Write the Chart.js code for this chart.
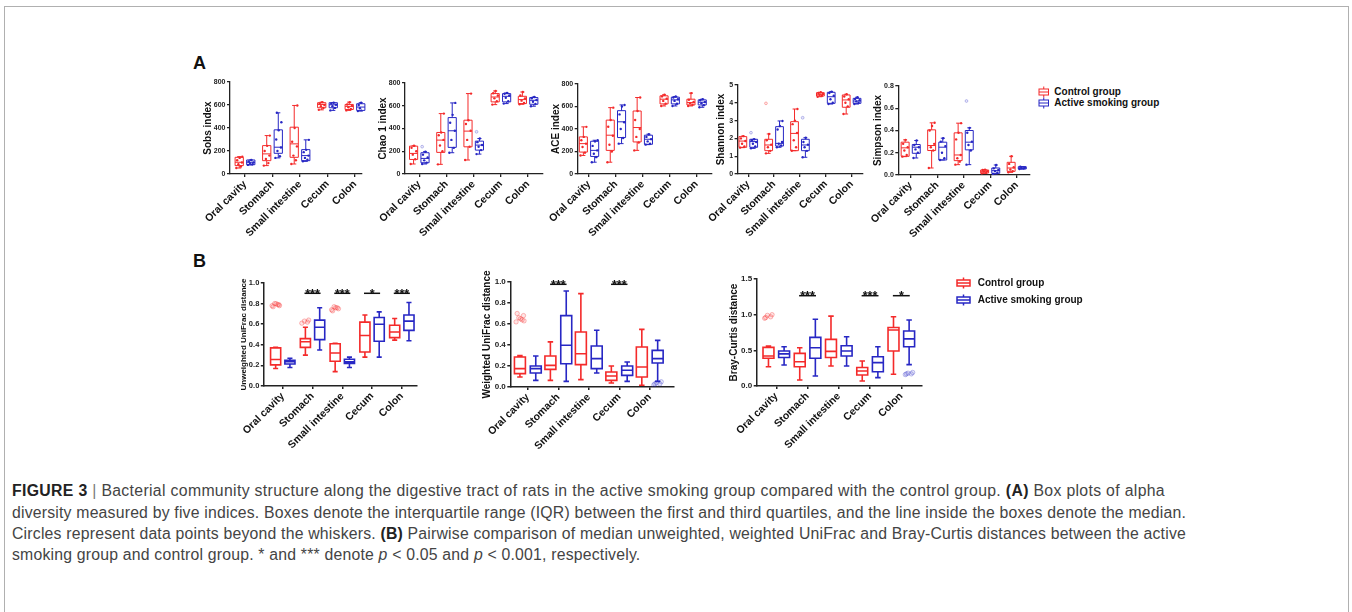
<!DOCTYPE html>
<html>
<head>
<meta charset="utf-8">
<script src="https://cdn.jsdelivr.net/npm/chart.js@4.4.1/dist/chart.umd.min.js"></script>
<style>
body{margin:0;width:1352px;height:612px;background:#fff;position:relative;overflow:hidden;font-family:'Liberation Sans',Arial,sans-serif}
.frame{position:absolute;left:4px;top:6px;width:1345px;height:700px;box-sizing:border-box;border:1.5px solid #b0b0b0}
canvas{position:absolute}
.lab{position:absolute;font-weight:bold;font-size:18px;color:#111;line-height:18px}
.leg{position:absolute;font-size:10px;font-weight:bold;color:#111;white-space:nowrap;line-height:12px}
.cap{position:absolute;left:12px;font-size:15.8px;line-height:20px;color:#444;white-space:nowrap}
.cap b{color:#222}
</style>
</head>
<body>
<div class="frame"></div>
<div class="lab" style="left:193px;top:54px">A</div>
<div class="lab" style="left:193px;top:252px">B</div>

<div class="cap" data-w="1153" style="top:481px"><b>FIGURE 3</b> <span style="color:#777">|</span> Bacterial community structure along the digestive tract of rats in the active smoking group compared with the control group. <b>(A)</b> Box plots of alpha</div>
<div class="cap" data-w="1174" style="top:503px">diversity measured by five indices. Boxes denote the interquartile range (IQR) between the first and third quartiles, and the line inside the boxes denote the median.</div>
<div class="cap" data-w="1174" style="top:524px">Circles represent data points beyond the whiskers. <b>(B)</b> Pairwise comparison of median unweighted, weighted UniFrac and Bray-Curtis distances between the active</div>
<div class="cap" style="top:545px">smoking group and control group. * and *** denote <i>p</i> &lt; 0.05 and <i>p</i> &lt; 0.001, respectively.</div>

<script>
// categories and groups
const categories = ['Oral cavity', 'Stomach', 'Small intestine', 'Cecum', 'Colon'];
const groups = ['Control group', 'Active smoking group'];

// tick labels
const countTicks = ['0', '200', '400', '600', '800'];
const shannonTicks = ['0', '1', '2', '3', '4', '5'];
const simpsonTicks = ['0.0', '0.2', '0.4', '0.6', '0.8'];
const unifracTicks = ['0.0', '0.2', '0.4', '0.6', '0.8', '1.0'];
const brayTicks = ['0.0', '0.5', '1.0', '1.5'];

// box stats per category: [min, q1, median, q3, max]
const sobsCtrl = [[52,73,102,145,151],[73,116,175,247,334],[87,145,262,407,596],[558,576,605,620,625],[553,561,588,605,625]];
const sobsSmk  = [[79,81,102,122,122],[140,180,233,384,532],[110,116,160,212,297],[553,576,602,620,620],[547,553,582,611,620]];
const sobsCtrlPts = [[52,65,85,100,120,140,151],[73,95,130,160,200,245,334],[87,120,160,240,280,400,596],[558,575,590,600,612,625],[553,565,580,592,605,625]];
const sobsSmkPts  = [[79,85,95,100,110,122],[140,155,200,230,300,380,450,532],[110,125,140,160,190,210,297],[553,575,590,602,612,620],[547,556,572,585,600,620]];

const chaoCtrl = [[88,128,181,245,248],[85,190,298,365,531],[123,239,377,473,707],[610,634,677,707,730],[613,619,654,683,721]];
const chaoSmk  = [[88,99,137,187,196],[187,234,380,496,625],[175,210,254,289,312],[619,634,683,707,712],[596,613,648,672,677]];
const chaoCtrlPts = [[88,130,170,200,230,248],[85,200,250,300,340,365,531],[123,240,300,380,440,473,707],[610,640,665,690,710,730],[613,625,645,665,690,721]];
const chaoSmkPts  = [[88,100,120,145,170,196],[187,230,300,380,450,520,625],[175,210,240,255,280,312],[619,640,670,690,705,712],[596,615,635,650,665,677]];
const chaoSmkOut  = [[240],[],[371],[],[]];

const aceCtrl = [[165,195,270,330,419],[105,210,345,479,590],[210,285,413,560,680],[605,623,665,695,704],[605,614,635,665,719]];
const aceSmk  = [[105,156,210,291,300],[270,324,464,563,614],[261,264,309,345,354],[605,623,659,683,689],[593,614,638,659,665]];
const aceCtrlPts = [[165,190,240,270,300,330,419],[105,200,260,340,420,480,590],[210,280,330,400,480,560,680],[605,625,650,670,690,704],[605,615,630,640,660,719]];
const aceSmkPts  = [[105,150,180,210,250,290,300],[270,320,400,460,530,600,614],[261,270,290,310,330,354],[605,625,650,665,680,689],[593,612,630,640,655,665]];

const shanCtrl = [[1.48,1.5,1.85,2.1,2.13],[1.16,1.31,1.63,1.95,2.25],[1.31,1.31,2.28,2.94,3.65],[4.34,4.38,4.48,4.57,4.59],[3.37,3.75,4.16,4.44,4.48]];
const shanSmk  = [[1.44,1.5,1.82,1.95,1.95],[1.5,1.57,1.72,2.66,2.98],[0.94,1.31,1.63,1.95,2.04],[3.93,3.97,4.34,4.59,4.63],[3.93,3.97,4.1,4.25,4.31]];
const shanCtrlPts = [[1.48,1.55,1.7,1.85,2.0,2.13],[1.16,1.3,1.5,1.65,1.9,2.25],[1.31,1.5,1.9,2.3,2.8,3.0,3.65],[4.34,4.4,4.45,4.5,4.55,4.59],[3.37,3.8,4.0,4.2,4.35,4.48]];
const shanSmkPts  = [[1.44,1.55,1.7,1.8,1.9,1.95],[1.5,1.6,1.7,1.8,2.5,2.7,2.98],[0.94,1.3,1.5,1.65,1.8,2.04],[3.93,4.0,4.2,4.4,4.55,4.63],[3.93,4.0,4.08,4.15,4.22,4.31]];
const shanCtrlOut = [[],[3.97],[],[],[]];
const shanSmkOut  = [[2.32],[],[3.16],[],[]];

const simpCtrl = [[0.165,0.168,0.244,0.295,0.316],[0.063,0.22,0.265,0.406,0.469],[0.093,0.129,0.18,0.379,0.466],[0.015,0.018,0.033,0.045,0.048],[0.024,0.033,0.063,0.114,0.168]];
const simpSmk  = [[0.153,0.195,0.25,0.274,0.31],[0.135,0.135,0.25,0.295,0.331],[0.093,0.226,0.295,0.40,0.424],[0.009,0.015,0.039,0.063,0.09],[0.054,0.054,0.063,0.075,0.075]];
const simpCtrlPts = [[0.165,0.18,0.22,0.25,0.28,0.316],[0.063,0.22,0.25,0.28,0.4,0.44,0.469],[0.093,0.12,0.15,0.18,0.32,0.38,0.466],[0.015,0.02,0.03,0.035,0.045,0.048],[0.024,0.035,0.05,0.07,0.1,0.168]];
const simpSmkPts  = [[0.153,0.2,0.23,0.25,0.27,0.31],[0.135,0.15,0.2,0.26,0.3,0.331],[0.093,0.22,0.27,0.3,0.38,0.424],[0.009,0.02,0.035,0.045,0.06,0.09],[0.054,0.06,0.063,0.068,0.075]];
const simpSmkOut  = [[],[],[0.665],[],[]];

const uwCtrl = [[0.17,0.205,0.258,0.37,0.375],[0.30,0.375,0.43,0.46,0.57],[0.14,0.24,0.32,0.41,0.415],[0.28,0.33,0.49,0.62,0.69],[0.445,0.47,0.525,0.59,0.655]];
const uwSmk  = [[0.18,0.213,0.235,0.25,0.27],[0.35,0.45,0.57,0.64,0.76],[0.18,0.22,0.235,0.26,0.28],[0.28,0.435,0.60,0.665,0.72],[0.44,0.54,0.63,0.69,0.81]];
const uwCtrlOut = [[0.78,0.79,0.80,0.79,0.77,0.80,0.78],[0.61,0.62,0.63,0.64],[0.74,0.76,0.77,0.75,0.73,0.76],[],[]];
const uwSig = [[1,'***'],[2,'***'],[3,'*'],[4,'***']];

const wCtrl = [[0.095,0.127,0.175,0.286,0.30],[0.063,0.168,0.206,0.295,0.43],[0.07,0.213,0.317,0.524,0.889],[0.038,0.063,0.105,0.143,0.2],[0.016,0.095,0.19,0.381,0.549]];
const wSmk  = [[0.063,0.133,0.175,0.2,0.295],[0.054,0.222,0.397,0.68,0.914],[0.133,0.175,0.27,0.39,0.54],[0.054,0.111,0.159,0.2,0.238],[0.054,0.229,0.27,0.349,0.444]];
const wCtrlOut = [[0.62,0.64,0.66,0.68,0.70,0.65,0.63],[],[],[],[]];
const wSmkOut  = [[],[],[],[],[0.02,0.03,0.04,0.05,0.03]];
const wSig = [[1,'***'],[3,'***']];

const bcCtrl = [[0.27,0.388,0.42,0.542,0.56],[0.084,0.27,0.34,0.458,0.537],[0.28,0.40,0.486,0.654,0.98],[0.07,0.154,0.21,0.26,0.35],[0.164,0.49,0.785,0.82,0.97]];
const bcSmk  = [[0.294,0.40,0.45,0.49,0.55],[0.14,0.388,0.537,0.682,0.935],[0.28,0.42,0.49,0.565,0.69],[0.117,0.2,0.327,0.41,0.55],[0.30,0.55,0.66,0.77,0.925]];
const bcCtrlOut = [[0.95,0.97,0.99,1.0,0.96],[],[],[],[]];
const bcSmkOut  = [[],[],[],[],[0.16,0.17,0.18,0.19,0.17]];
const bcSig = [[1,'***'],[3,'***'],[4,'*']];

const red = '#f42a2a', blue = '#2727c4';
const redFaint = 'rgba(244,42,42,0.4)', blueFaint = 'rgba(39,39,196,0.35)';
const spread = [-0.7, 0.4, -0.2, 0.65, -0.5, 0.1, 0.75, -0.35];
const FONT = "'Liberation Sans', Arial, sans-serif";
const specs = {};

const boxPlugin = {
  id: 'boxes',
  beforeDatasetsDraw(chart) {
    const sp = specs[chart.canvas.id];
    const {ctx} = chart, x = chart.scales.x, y = chart.scales.y;
    ctx.save();
    ctx.lineWidth = sp.lw;
    [sp.ctrl, sp.smk].forEach((stats, g) => {
      const off = g ? sp.off : -sp.off;
      ctx.strokeStyle = g ? blue : red;
      stats.forEach((s, i) => {
        const cx = x.getPixelForValue(i + off);
        const hw = x.getPixelForValue(i + off + sp.boxW / 2) - cx;
        const cw = hw * sp.cap;
        const [mn, q1, md, q3, mx] = s.map(v => y.getPixelForValue(v));
        ctx.beginPath();
        ctx.rect(cx - hw, q3, hw * 2, q1 - q3);
        ctx.moveTo(cx - hw, md); ctx.lineTo(cx + hw, md);
        ctx.moveTo(cx, q3); ctx.lineTo(cx, mx);
        ctx.moveTo(cx, q1); ctx.lineTo(cx, mn);
        ctx.moveTo(cx - cw, mx); ctx.lineTo(cx + cw, mx);
        ctx.moveTo(cx - cw, mn); ctx.lineTo(cx + cw, mn);
        ctx.stroke();
      });
    });
    ctx.restore();
  },
  afterDatasetsDraw(chart) {
    const sp = specs[chart.canvas.id];
    if (!sp.sig) return;
    const {ctx} = chart, x = chart.scales.x, y = chart.scales.y;
    const ly = y.getPixelForValue(sp.sigLevel);
    ctx.save();
    ctx.strokeStyle = '#111';
    ctx.fillStyle = '#111';
    ctx.lineWidth = 1.5;
    ctx.font = 'bold 12.5px ' + FONT;
    ctx.textAlign = 'center';
    ctx.textBaseline = 'alphabetic';
    sp.sig.forEach(([i, label]) => {
      const x1 = x.getPixelForValue(i - 0.27), x2 = x.getPixelForValue(i + 0.27);
      ctx.beginPath();
      ctx.moveTo(x1, ly); ctx.lineTo(x2, ly);
      ctx.stroke();
      ctx.fillText(label, (x1 + x2) / 2, ly + 4.5);
    });
    ctx.restore();
  }
};

function scatterPoints(lists, off, half) {
  return lists.flatMap((vals, i) => vals.map((v, k) => ({x: i + off + spread[k % spread.length] * half, y: v})));
}

function makeChart(id, sp) {
  specs[id] = sp;
  const cl = sp.titleX - 20, ct = sp.top - 12, cr = sp.right + 8, cb = sp.bottom + 80;
  const cv = document.createElement('canvas');
  cv.id = id;
  cv.width = Math.round(cr - cl);
  cv.height = Math.round(cb - ct);
  cv.style.left = cl + 'px';
  cv.style.top = ct + 'px';
  document.body.appendChild(cv);

  const half = sp.boxW / 2;
  const datasets = [];
  if (sp.ctrlPts) {
    datasets.push({data: scatterPoints(sp.ctrlPts, -sp.off, half), pointRadius: 1.2, pointBackgroundColor: red, pointBorderWidth: 0});
    datasets.push({data: scatterPoints(sp.smkPts, sp.off, half), pointRadius: 1.2, pointBackgroundColor: blue, pointBorderWidth: 0});
  }
  const outR = sp.ctrlPts ? 1.4 : 2.2;
  if (sp.ctrlOut) datasets.push({data: scatterPoints(sp.ctrlOut, -sp.off, half), pointRadius: outR, pointBackgroundColor: 'rgba(244,42,42,0.12)', pointBorderColor: redFaint, pointBorderWidth: 0.8});
  if (sp.smkOut) datasets.push({data: scatterPoints(sp.smkOut, sp.off, half), pointRadius: outR, pointBackgroundColor: 'rgba(39,39,196,0.1)', pointBorderColor: blueFaint, pointBorderWidth: 0.8});

  const yVals = sp.yTicks.map(Number);
  const xMin = (sp.left - sp.x0) / sp.dx, xMax = (sp.right - sp.x0) / sp.dx;
  const padL = 20 - 0.6 * sp.titleSize;

  new Chart(cv, {
    type: 'scatter',
    data: {datasets},
    options: {
      responsive: false,
      animation: false,
      events: [],
      layout: {padding: {left: padL, top: 12, right: 8, bottom: 0}},
      plugins: {legend: {display: false}, tooltip: {enabled: false}},
      scales: {
        x: {
          type: 'linear', min: xMin, max: xMax,
          afterBuildTicks: s => { s.ticks = categories.map((_, i) => ({value: i})); },
          afterFit: s => { s.height = 80; s.paddingLeft = 0; s.paddingRight = 0; },
          ticks: {autoSkip: false, minRotation: 45, maxRotation: 45, padding: 1, color: '#111',
                  font: {family: FONT, size: 10.5, weight: 'bold'}, callback: v => categories[v]},
          grid: {drawOnChartArea: false, drawTicks: true, tickLength: 3, color: '#222', lineWidth: sp.axisLw},
          border: {display: true, color: '#222', width: sp.axisLw}
        },
        y: {
          min: yVals[0], max: yVals[yVals.length - 1],
          afterBuildTicks: s => { s.ticks = yVals.map(v => ({value: v})); },
          afterFit: s => { s.width = sp.left - sp.titleX + 0.6 * sp.titleSize; },
          ticks: {padding: 1.5, color: '#222', font: {family: FONT, size: sp.tickSize, weight: 'bold'},
                  callback: (v, i) => sp.yTicks[i]},
          title: {display: true, text: sp.title, padding: 0, color: '#111',
                  font: {family: FONT, size: sp.titleSize, weight: 'bold', lineHeight: 1.2}},
          grid: {drawOnChartArea: false, drawTicks: true, tickLength: 3, color: '#222', lineWidth: sp.axisLw},
          border: {display: true, color: '#222', width: sp.axisLw}
        }
      }
    },
    plugins: [boxPlugin]
  });
}

const alpha = {titleSize: 10, tickSize: 7, lw: 1, axisLw: 1.3, boxW: 0.3, off: 0.21, cap: 0.5};
makeChart('sobs', Object.assign({}, alpha, {title: 'Sobs index', titleX: 208, left: 230, right: 362, top: 82, bottom: 173.5, x0: 245, dx: 27.5,
  yTicks: countTicks, ctrl: sobsCtrl, smk: sobsSmk, ctrlPts: sobsCtrlPts, smkPts: sobsSmkPts}));
makeChart('chao', Object.assign({}, alpha, {title: 'Chao 1 index', titleX: 383, left: 405, right: 543, top: 83, bottom: 174, x0: 419.3, dx: 27.2,
  yTicks: countTicks, ctrl: chaoCtrl, smk: chaoSmk, ctrlPts: chaoCtrlPts, smkPts: chaoSmkPts, smkOut: chaoSmkOut}));
makeChart('ace', Object.assign({}, alpha, {title: 'ACE index', titleX: 556, left: 577.7, right: 712, top: 84, bottom: 173.5, x0: 589, dx: 26.9,
  yTicks: countTicks, ctrl: aceCtrl, smk: aceSmk, ctrlPts: aceCtrlPts, smkPts: aceSmkPts}));
makeChart('shannon', Object.assign({}, alpha, {title: 'Shannon index', titleX: 720.7, left: 737.3, right: 863, top: 85, bottom: 174, x0: 748, dx: 25.9,
  yTicks: shannonTicks, ctrl: shanCtrl, smk: shanSmk, ctrlPts: shanCtrlPts, smkPts: shanSmkPts, ctrlOut: shanCtrlOut, smkOut: shanSmkOut}));
makeChart('simpson', Object.assign({}, alpha, {title: 'Simpson index', titleX: 878, left: 898.3, right: 1030, top: 85.5, bottom: 174.3, x0: 910.7, dx: 26.5,
  yTicks: simpsonTicks, ctrl: simpCtrl, smk: simpSmk, ctrlPts: simpCtrlPts, smkPts: simpSmkPts, smkOut: simpSmkOut}));

const beta = {titleSize: 10, tickSize: 8, lw: 1.6, axisLw: 1.5, cap: 0.5};
makeChart('unweighted', Object.assign({}, beta, {title: 'Unweighted UniFrac distance', titleSize: 8, tickSize: 7.5, titleX: 243.5, left: 263.3, right: 416.7, top: 282.7, bottom: 386,
  x0: 282.3, dx: 29.8, off: 0.24, boxW: 0.34, yTicks: unifracTicks, ctrl: uwCtrl, smk: uwSmk, ctrlOut: uwCtrlOut, sig: uwSig, sigLevel: 0.9}));
makeChart('weighted', Object.assign({}, beta, {title: 'Weighted UniFrac distance', titleX: 486.7, left: 510, right: 673.3, top: 281.7, bottom: 386.7,
  x0: 527.5, dx: 30.4, off: 0.26, boxW: 0.36, yTicks: unifracTicks, ctrl: wCtrl, smk: wSmk, ctrlOut: wCtrlOut, smkOut: wSmkOut, sig: wSig, sigLevel: 0.978}));
makeChart('bray', Object.assign({}, beta, {title: 'Bray-Curtis distance', titleX: 734, left: 756.7, right: 921.7, top: 279, bottom: 386,
  x0: 776.25, dx: 31.2, off: 0.25, boxW: 0.35, yTicks: brayTicks, ctrl: bcCtrl, smk: bcSmk, ctrlOut: bcCtrlOut, smkOut: bcSmkOut, sig: bcSig, sigLevel: 1.266}));

// legends with box-plot shaped keys
function legend(iconLeft, iconW, textLeft, rows, lw) {
  rows.forEach((cy, g) => {
    const color = g ? blue : red;
    const svg = document.createElementNS('http://www.w3.org/2000/svg', 'svg');
    svg.setAttribute('width', iconW + 2);
    svg.setAttribute('height', 12);
    svg.style.position = 'absolute';
    svg.style.left = (iconLeft - 1) + 'px';
    svg.style.top = (cy - 6) + 'px';
    const m = iconW / 2 + 1;
    svg.innerHTML = `<rect x="1" y="3" width="${iconW}" height="6" fill="none" stroke="${color}" stroke-width="${lw}"/>` +
      `<line x1="1" y1="6" x2="${iconW + 1}" y2="6" stroke="${color}" stroke-width="${lw}"/>` +
      `<line x1="${m}" y1="0.5" x2="${m}" y2="3" stroke="${color}" stroke-width="${lw}"/>` +
      `<line x1="${m}" y1="9" x2="${m}" y2="11.5" stroke="${color}" stroke-width="${lw}"/>`;
    document.body.appendChild(svg);
    const t = document.createElement('div');
    t.className = 'leg';
    t.textContent = groups[g];
    t.style.left = textLeft + 'px';
    t.style.top = (cy - 6) + 'px';
    document.body.appendChild(t);
  });
}
legend(1039, 9.5, 1054.3, [91.7, 103.3], 1);
legend(957, 13, 977.7, [282.7, 300], 1.5);

// fit caption lines to the reference line lengths; the short last line keeps the previous spacing
let lastSpacing = 0;
document.querySelectorAll('.cap').forEach(el => {
  if (el.dataset.w) {
    const w = el.getBoundingClientRect().width;
    lastSpacing = (Number(el.dataset.w) - w) / el.textContent.length;
  }
  el.style.letterSpacing = lastSpacing + 'px';
});
</script>
</body>
</html>
